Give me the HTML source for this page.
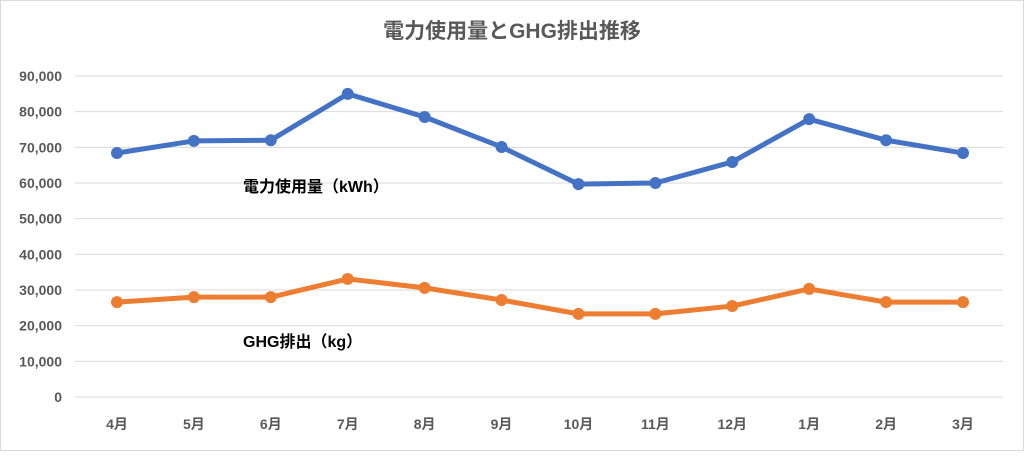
<!DOCTYPE html>
<html><head><meta charset="utf-8"><style>
body{margin:0;background:#fff;}
svg text{font-family:"Liberation Sans","Noto Sans CJK JP",sans-serif;}
</style></head><body>
<svg id="chart" width="1024" height="451" viewBox="0 0 1024 451" xmlns="http://www.w3.org/2000/svg">
<rect x="0.5" y="0.5" width="1023" height="450" fill="#fff" stroke="#d9d9d9"/>
<text x="512" y="38" text-anchor="middle" font-size="21" font-weight="bold" fill="#595959">電力使用量とGHG排出推移</text>
<g id="grid"></g><g id="yt"></g><g id="xt"></g><g id="series"></g>
<text x="243" y="192" font-size="16" font-weight="bold" fill="#000">電力使用量（kWh）</text>
<text x="243" y="347" font-size="16" font-weight="bold" fill="#000">GHG排出（kg）</text>
</svg>
<script>
const categories=["4月","5月","6月","7月","8月","9月","10月","11月","12月","1月","2月","3月"];
const powerValues=[68400,71800,72000,85000,78500,70100,59700,60000,65900,77900,72000,68400];
const ghgValues=[26600,28000,28000,33100,30600,27200,23300,23300,25500,30300,26600,26600];
const yTicks=[0,10000,20000,30000,40000,50000,60000,70000,80000,90000];
const NS="http://www.w3.org/2000/svg";
const x0=117,x1=963,yb=397,yt=76,ymax=90000;
const xs=i=>x0+(x1-x0)*i/(categories.length-1);
const ys=v=>yb-(yb-yt)*v/ymax;
function mk(t,a,p){const e=document.createElementNS(NS,t);for(const k in a)e.setAttribute(k,a[k]);p.appendChild(e);return e;}
const grid=document.getElementById('grid'),ytg=document.getElementById('yt'),xtg=document.getElementById('xt'),sg=document.getElementById('series');
yTicks.forEach(v=>{
 const l=mk('line',{x1:75,x2:1003,y1:ys(v),y2:ys(v),stroke:'#d9d9d9','stroke-width':1},grid);
 
 
 const t=mk('text',{x:62,y:ys(v)+5,'text-anchor':'end','font-size':14,'font-weight':'bold',fill:'#595959'},ytg);
 t.textContent=v.toLocaleString('en-US');
 
 
});
categories.forEach((c,i)=>{
 const t=mk('text',{x:xs(i),y:429,'text-anchor':'middle','font-size':14,'font-weight':'bold',fill:'#595959'},xtg);
 t.textContent=c;
 
 
});
function series(vals,col,name){
 const p=mk('polyline',{points:vals.map((v,i)=>xs(i)+','+ys(v)).join(' '),fill:'none',stroke:col,'stroke-width':5,'stroke-linejoin':'round'},sg);
 
 
 vals.forEach((v,i)=>{
  const c=mk('circle',{cx:xs(i),cy:ys(v),r:6,fill:col},sg);
  
  
 });
}
series(powerValues,'#4472c4','power');
series(ghgValues,'#ed7d31','ghg');
</script>
</body></html>
